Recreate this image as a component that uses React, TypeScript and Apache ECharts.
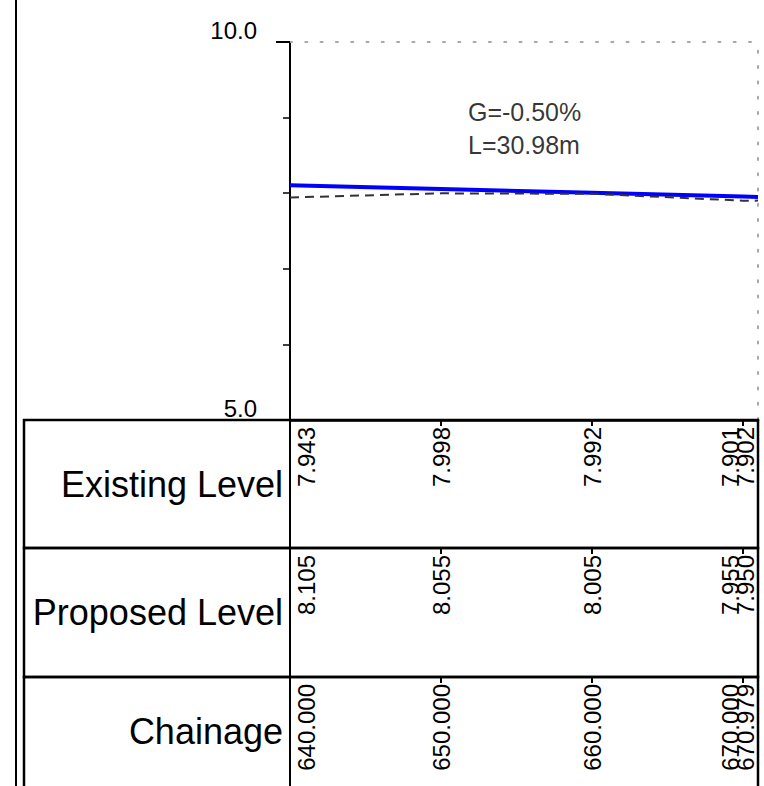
import React, { useEffect, useRef } from "react";
import * as echarts from "echarts";

// ---- data ----
const chainages = [640, 650, 660, 670, 670.979];
const existingLevels = [7.943, 7.998, 7.992, 7.901, 7.902];
const proposedLevels = [8.105, 8.055, 8.005, 7.955, 7.95];
const rowTitles = ["Existing Level", "Proposed Level", "Chainage"];
const levelMin = 5;
const levelMax = 10;
const levelLabelStep = 5;
const gradeText = "G=-0.50%";
const lengthText = "L=30.98m";

// ---- layout / style ----
const W = 764;
const H = 786;
const FONT = "'Liberation Sans', Arial, Helvetica, sans-serif";
const PLOT_LEFT = 290;
const PLOT_RIGHT = 6;
const PLOT_TOP = 42;
const PLOT_H = 378;
const ROW_TOPS = [420, 548, 677];
const ROW_HS = [128, 129, 129];
const TABLE_LEFT = 24;
const FRAME_X = 16;
const TEXT_PAD = 7;

const rowValues: string[][] = [
  existingLevels.map((v) => v.toFixed(3)),
  proposedLevels.map((v) => v.toFixed(3)),
  chainages.map((v) => v.toFixed(3)),
];

export default function App() {
  const ref = useRef<HTMLDivElement>(null);

  useEffect(() => {
    if (!ref.current) return;
    const chart = echarts.init(ref.current, null, { renderer: "svg" });
    const chMin = chainages[0];
    const chMax = chainages[chainages.length - 1];
    const midCh = (chMin + chMax) / 2;
    const midLevel =
      (proposedLevels[0] + proposedLevels[proposedLevels.length - 1]) / 2;

    const grids: any[] = [
      { left: PLOT_LEFT, right: PLOT_RIGHT, top: PLOT_TOP, height: PLOT_H },
      ...ROW_TOPS.map((t, i) => ({
        left: PLOT_LEFT,
        right: PLOT_RIGHT,
        top: t,
        height: ROW_HS[i],
      })),
    ];

    const xAxes: any[] = [
      {
        gridIndex: 0,
        type: "value",
        min: chMin,
        max: chMax,
        position: "bottom",
        axisLine: { show: true, onZero: false, lineStyle: { color: "#000", width: 2.5 } },
        axisTick: { show: false },
        axisLabel: { show: false },
        splitLine: { show: false },
      },
      {
        gridIndex: 0,
        type: "value",
        min: chMin,
        max: chMax,
        position: "top",
        axisLine: {
          show: true,
          onZero: false,
          lineStyle: { color: "#a8a8a8", width: 2, type: [2, 13.3] },
        },
        axisTick: { show: false },
        axisLabel: { show: false },
        splitLine: { show: false },
      },
      ...ROW_TOPS.map((_, i) => ({
        gridIndex: i + 1,
        type: "value",
        min: chMin,
        max: chMax,
        position: "top",
        axisLine: { show: false, onZero: false },
        axisTick: {
          show: true,
          inside: true,
          length: 6,
          customValues: chainages.slice(1),
          lineStyle: { color: "#000", width: 2 },
        },
        axisLabel: { show: false },
        splitLine: { show: false },
      })),
    ];

    const yAxes: any[] = [
      {
        gridIndex: 0,
        type: "value",
        min: levelMin,
        max: levelMax,
        interval: levelLabelStep,
        axisLine: { show: true, onZero: false, lineStyle: { color: "#000", width: 2 } },
        axisTick: { show: true, length: 14, lineStyle: { color: "#000", width: 2 } },
        minorTick: {
          show: true,
          splitNumber: 5,
          length: 7,
          lineStyle: { color: "#000", width: 1.5 },
        },
        axisLabel: {
          show: true,
          margin: 33,
          fontSize: 24,
          color: "#000",
          fontFamily: FONT,
          verticalAlign: "bottom",
          formatter: (v: number) => v.toFixed(1),
        },
        splitLine: { show: false },
      },
      {
        gridIndex: 0,
        type: "value",
        min: levelMin,
        max: levelMax,
        position: "right",
        axisLine: {
          show: true,
          onZero: false,
          lineStyle: { color: "#a8a8a8", width: 2, type: [2, 13.3] },
        },
        axisTick: { show: false },
        axisLabel: { show: false },
        splitLine: { show: false },
      },
      ...rowTitles.map((title, i) => ({
        gridIndex: i + 1,
        type: "category",
        data: [title],
        axisLine: { show: true, onZero: false, lineStyle: { color: "#000", width: 2 } },
        axisTick: { show: false },
        axisLabel: {
          show: true,
          margin: 7,
          fontSize: 36,
          color: "#000",
          fontFamily: FONT,
        },
        splitLine: { show: false },
      })),
    ];

    const tableSeries = rowValues.map((vals, i) => ({
      type: "custom",
      xAxisIndex: i + 2,
      yAxisIndex: i + 2,
      clip: false,
      silent: true,
      data: chainages.map((c) => [c, 0]),
      encode: { x: 0, y: 1 },
      renderItem: (params: any, api: any) => {
        const idx = params.dataIndex;
        const n = chainages.length;
        const px = api.coord([api.value(0), 0])[0];
        const cs = params.coordSys;
        let va = "middle";
        let dx = 0;
        if (idx === 0) {
          va = "top";
          dx = 4;
        } else if (idx >= n - 2) {
          va = "bottom";
          dx = -1;
        }
        return {
          type: "text",
          x: px + dx,
          y: cs.y + TEXT_PAD,
          rotation: Math.PI / 2,
          style: {
            text: vals[idx],
            fontSize: 24,
            fontFamily: FONT,
            fill: "#000",
            align: "right",
            verticalAlign: va,
          },
        };
      },
    }));

    const option: any = {
      animation: false,
      textStyle: { fontFamily: FONT },
      grid: grids,
      xAxis: xAxes,
      yAxis: yAxes,
      series: [
        {
          type: "line",
          name: "Proposed",
          xAxisIndex: 0,
          yAxisIndex: 0,
          data: chainages.map((c, i) => [c, proposedLevels[i]]),
          showSymbol: false,
          symbol: "none",
          lineStyle: { color: "#0000ff", width: 4 },
          z: 3,
        },
        {
          type: "line",
          name: "Existing",
          xAxisIndex: 0,
          yAxisIndex: 0,
          data: chainages.map((c, i) => [c, existingLevels[i]]),
          showSymbol: false,
          symbol: "none",
          lineStyle: { color: "#333", width: 2, type: [9, 6] },
          z: 4,
        },
        {
          type: "scatter",
          xAxisIndex: 0,
          yAxisIndex: 0,
          symbolSize: 0,
          silent: true,
          data: [[midCh, midLevel]],
          label: {
            show: true,
            position: "top",
            distance: 30,
            formatter: gradeText + "\n" + lengthText,
            fontSize: 25,
            lineHeight: 33,
            align: "left",
            color: "#000",
            fontFamily: FONT,
            offset: [-56, 0],
          },
        },
        ...tableSeries,
      ],
      graphic: [
        {
          type: "line",
          shape: { x1: FRAME_X, y1: 0, x2: FRAME_X, y2: H },
          style: { stroke: "#000", lineWidth: 2 },
          z: 10,
        },
        ...ROW_TOPS.map((t, i) => ({
          type: "rect",
          shape: {
            x: TABLE_LEFT,
            y: t,
            width: W - PLOT_RIGHT - TABLE_LEFT,
            height: ROW_HS[i],
          },
          style: { stroke: "#000", fill: "none", lineWidth: 2.5 },
          z: 10,
        })),
      ],
    };
    chart.setOption(option);
    return () => chart.dispose();
  }, []);

  return (
    <div
      ref={ref}
      style={{ position: "absolute", left: 0, top: 0, width: W, height: H, background: "#fff" }}
    />
  );
}
